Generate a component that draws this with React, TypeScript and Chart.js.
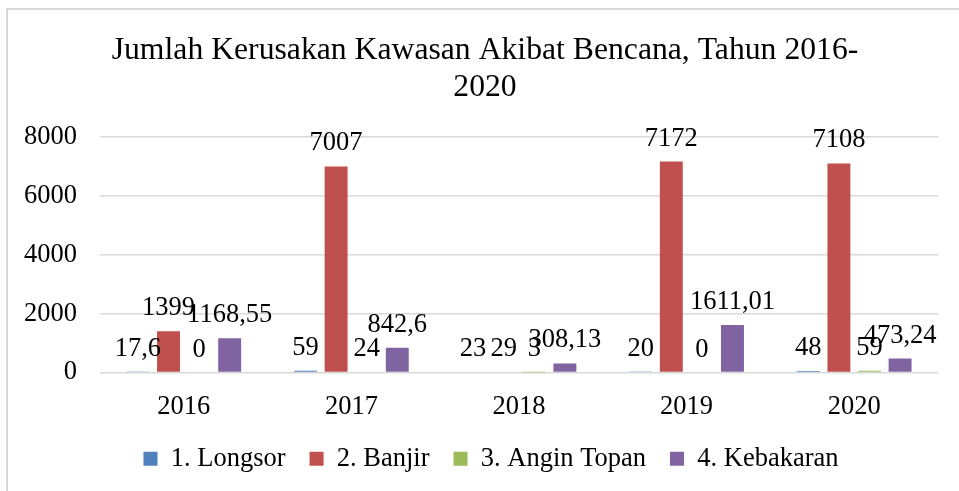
import React, { useEffect, useRef } from "react";
import { Chart, registerables } from "chart.js";

Chart.register(...registerables);

const categories = ["2016", "2017", "2018", "2019", "2020"];
const seriesNames = ["1. Longsor", "2. Banjir", "3. Angin Topan", "4. Kebakaran"];
const longsor = [17.6, 59, 23, 20, 48];
const banjir = [1399, 7007, 29, 7172, 7108];
const anginTopan = [0, 24, 3, 0, 59];
const kebakaran = [1168.55, 842.6, 308.13, 1611.01, 473.24];
const colors = ["#4F81BD", "#C0504D", "#9BBB59", "#8064A2"];
const titleLines = ["Jumlah Kerusakan Kawasan Akibat Bencana, Tahun 2016-", "2020"];

const FONT = '"Liberation Serif", "Times New Roman", serif';
const FS = 26.5;

const dataLabelPlugin = {
  id: "dataLabels",
  afterDatasetsDraw(chart: any) {
    const ctx = chart.ctx;
    ctx.save();
    ctx.font = `${FS}px ${FONT}`;
    ctx.fillStyle = "#000";
    ctx.textAlign = "center";
    ctx.textBaseline = "alphabetic";
    chart.data.datasets.forEach((ds: any, i: number) => {
      const meta = chart.getDatasetMeta(i);
      meta.data.forEach((el: any, j: number) => {
        const v = ds.data[j];
        const txt = String(v).replace(".", ",");
        ctx.fillText(txt, el.x, el.y - 16);
      });
    });
    ctx.restore();
  },
};

const shiftPlugin = {
  id: "shiftBoxes",
  afterLayout(chart: any) {
    if (chart.legend) {
      chart.legend.left += 13;
      chart.legend.right += 13;
    }
    if (chart.titleBlock) {
      chart.titleBlock.left += 7;
      chart.titleBlock.right += 7;
    }
  },
};

export default function App() {
  const ref = useRef<HTMLCanvasElement>(null);
  useEffect(() => {
    document.body.style.margin = "0";
    const all = [longsor, banjir, anginTopan, kebakaran];
    const chart = new Chart(ref.current!, {
      type: "bar",
      data: {
        labels: categories,
        datasets: all.map((d, i) => ({
          label: seriesNames[i],
          data: d,
          backgroundColor: colors[i],
          borderWidth: 0,
          categoryPercentage: 0.73,
          barPercentage: 0.75,
        })),
      },
      options: {
        animation: false,
        responsive: false,
        layout: { padding: { left: 18, right: 21, top: 18, bottom: 9 } },
        plugins: {
          tooltip: { enabled: false },
          title: {
            display: true,
            text: titleLines,
            color: "#000",
            font: { family: FONT, size: 31.7, weight: "normal", lineHeight: 1.17 },
            padding: { top: 14, bottom: 31 },
          },
          legend: {
            position: "bottom",
            labels: {
              color: "#000",
              font: { family: FONT, size: FS },
              boxWidth: 14,
              boxHeight: 14,
              padding: 24,
            },
          },
        },
        scales: {
          x: {
            grid: { display: false },
            border: { display: false },
            ticks: { color: "#000", font: { family: FONT, size: FS }, padding: 11 },
            afterFit: (s: any) => { s.height = 49; },
          },
          y: {
            min: 0,
            max: 8000,
            ticks: {
              stepSize: 2000,
              color: "#000",
              font: { family: FONT, size: FS },
              padding: 23,
              callback: (v: any) => String(v),
            },
            grid: { color: "#d9d9d9", lineWidth: 1.5, drawTicks: false },
            border: { display: false },
            afterFit: (s: any) => { s.width = 82; },
          },
        },
      },
      plugins: [dataLabelPlugin, shiftPlugin],
    });
    return () => chart.destroy();
  }, []);
  return (
    <div style={{ position: "absolute", left: 0, top: 0, width: 959, height: 491, overflow: "hidden", background: "#fff" }}>
      <div style={{ position: "absolute", left: 6, top: 8, width: 1200, height: 1200, border: "2px solid #d9d9d9" }} />
      <canvas ref={ref} width={959} height={491} style={{ position: "absolute", left: 0, top: 0 }} />
    </div>
  );
}
